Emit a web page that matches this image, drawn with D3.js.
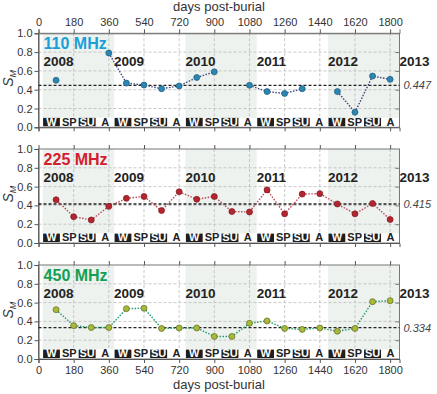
<!DOCTYPE html>
<html><head><meta charset="utf-8">
<script src="https://cdn.jsdelivr.net/npm/d3@7"></script>
<style>body{margin:0;background:#fff}svg{display:block;font-family:"Liberation Sans",Arial,sans-serif}</style>
</head><body><svg id="c" width="437" height="394"></svg>
<script>
const days = [90,180,270,360,450,540,630,720,810,900,990,1080,1170,1260,1350,1440,1530,1620,1710,1800];
const s110 = [0.50,null,null,0.79,0.47,0.45,0.41,0.44,0.53,0.59,null,0.447,0.38,0.36,0.41,null,0.38,0.16,0.545,0.51];
const s225 = [0.46,0.28,0.245,0.39,0.475,0.495,0.345,0.545,0.465,0.495,0.335,0.33,0.565,0.31,0.52,0.525,0.415,0.31,0.42,0.25];
const s450 = [0.525,0.355,0.335,0.335,0.535,0.54,0.325,0.33,0.33,0.24,0.24,0.38,0.405,0.325,0.315,0.33,0.295,0.325,0.61,0.62];
const means = [0.447,0.415,0.334];
const freqLabels = ["110 MHz","225 MHz","450 MHz"];
const years = ["2008","2009","2010","2011","2012","2013"];
const yearStart = [21,387,752,1117,1482,1848];
const seasons = ["W","SP","SU","A"];
const seasonOffsets = [0,91,182,274];
const xTicks = [0,180,360,540,720,900,1080,1260,1440,1620,1800];
const yTicks = [0,0.2,0.4,0.6,0.8,1.0];

const svg = d3.select("#c");
const x = d3.scaleLinear().domain([0,1848]).range([38.5,399.5]);
const panelTops = [33.3,149,265];
const panelH = 94;
const series = [s110,s225,s450];
const labelColors = ["#1aa0d8","#d4202e","#14a052"];
const ptFill = ["#2b86b2","#b3252f","#a9b83a"];
const ptStroke = ["#1d5c7c","#7e1820","#5d6b1c"];
const lineCol = ["#3c4680","#c04a55","#1f9a6c"];

panelTops.forEach((top,pi)=>{
  const y = d3.scaleLinear().domain([0,1]).range([top+panelH, top]);
  const g = svg.append("g");
  [0,2,4].forEach(yi=>{
    g.append("rect").attr("x",x(yearStart[yi])).attr("width",x(yearStart[yi+1])-x(yearStart[yi]))
      .attr("y",y(1)).attr("height",y(0.1)-y(1)).attr("fill","#edf2ef");
  });
  g.selectAll(".vg").data(xTicks).join("line")
    .attr("x1",d=>x(d)).attr("x2",d=>x(d)).attr("y1",y(1)).attr("y2",y(0.1))
    .attr("stroke","#bbb").attr("stroke-width",0.8).attr("stroke-dasharray","3,2");
  g.selectAll(".hg").data([0.2,0.4,0.6,0.8]).join("line")
    .attr("x1",x(0)).attr("x2",x(1848)).attr("y1",d=>y(d)).attr("y2",d=>y(d))
    .attr("stroke","#bbb").attr("stroke-width",0.8).attr("stroke-dasharray","3,2");
  const boxes = [];
  for(let yi=0; yi<5; yi++){
    for(let si=0; si<4; si++){
      const a = yearStart[yi]+seasonOffsets[si];
      const b = si<3 ? yearStart[yi]+seasonOffsets[si+1] : yearStart[yi+1];
      boxes.push({a,b,s:seasons[si],dark:si%2===0});
    }
  }
  const bg = g.selectAll(".box").data(boxes).join("g");
  bg.append("rect").attr("x",d=>x(d.a)+0.5).attr("width",d=>x(d.b)-x(d.a)-1)
    .attr("y",y(0.1)).attr("height",y(0)-y(0.1)-1)
    .attr("fill",d=>d.dark?"#1e1e1e":"#fff");
  bg.append("text").attr("x",d=>(x(d.a)+x(d.b))/2).attr("y",y(0)-1.6)
    .attr("text-anchor","middle").attr("font-size",11).attr("font-weight","bold")
    .attr("fill",d=>d.dark?"#fff":"#222").text(d=>d.s);
  g.append("rect").attr("x",x(0)).attr("y",y(1)).attr("width",x(1848)-x(0)).attr("height",panelH)
    .attr("fill","none").attr("stroke","#777").attr("stroke-width",1);
  const la = g.append("g").attr("transform",`translate(${x(0)},0)`)
    .call(d3.axisLeft(y).tickValues(yTicks).tickFormat(d3.format(".1f")).tickSize(4).tickPadding(2));
  la.select(".domain").attr("stroke","#555");
  la.selectAll("line").attr("stroke","#555");
  la.selectAll("text").attr("font-size",11).attr("fill","#333").attr("font-family","Liberation Sans, Arial");
  const ra = g.append("g").attr("transform",`translate(${x(1848)},0)`)
    .call(d3.axisLeft(y).tickValues([0.2,0.4,0.6,0.8]).tickFormat("").tickSize(4));
  ra.select(".domain").remove(); ra.selectAll("line").attr("stroke","#777");
  const ba = g.append("g").attr("transform",`translate(0,${y(0)})`)
    .call(d3.axisBottom(x).tickValues(xTicks).tickSize(4).tickFormat(pi===2?d3.format("d"):""));
  ba.select(".domain").attr("stroke","#555");
  ba.selectAll("line").attr("stroke","#555");
  ba.selectAll("text").attr("font-size",11).attr("fill","#333").attr("font-family","Liberation Sans, Arial");
  if(pi===0){
    const ta = g.append("g").attr("transform",`translate(0,${y(1)})`)
      .call(d3.axisTop(x).tickValues(xTicks).tickSize(4).tickFormat(d3.format("d")));
    ta.select(".domain").attr("stroke","#777");
    ta.selectAll("line").attr("stroke","#555");
    ta.selectAll("text").attr("font-size",11).attr("fill","#333").attr("font-family","Liberation Sans, Arial");
  } else {
    g.append("g").attr("transform",`translate(0,${y(1)})`)
      .call(d3.axisTop(x).tickValues(xTicks).tickSize(4).tickFormat(""))
      .call(a=>{a.select(".domain").remove(); a.selectAll("line").attr("stroke","#555");});
  }
  g.append("line").attr("x1",x(0)).attr("x2",x(1848)).attr("y1",y(means[pi])).attr("y2",y(means[pi]))
    .attr("stroke","#222").attr("stroke-width",1.3).attr("stroke-dasharray","3,2");
  g.append("text").attr("x",x(1848)+4).attr("y",y(means[pi])+4).attr("font-size",11)
    .attr("font-style","italic").attr("fill","#444").text(means[pi].toFixed(3));
  g.append("text").attr("x",x(yearStart[0])+1).attr("y",y(1)+16).attr("font-size",16)
    .attr("font-weight","bold").attr("fill",labelColors[pi]).text(freqLabels[pi]);
  g.selectAll(".yr").data(years).join("text")
    .attr("x",(d,i)=>x(yearStart[i])+(i===0?1:0)).attr("y",y(0.65))
    .attr("font-size",13.5).attr("font-weight","bold").attr("fill","#222").text(d=>d);
  const yl = g.append("text").attr("transform",`translate(13,${y(0.52)}) rotate(-90)`)
    .attr("text-anchor","middle").attr("font-size",14).attr("font-style","italic").attr("fill","#333");
  yl.append("tspan").text("S");
  yl.append("tspan").attr("font-size",9).attr("dy",3).text("M");
  const pts = days.map((d,i)=>({d,v:series[pi][i]}));
  const line = d3.line().defined(p=>p.v!==null).x(p=>x(p.d)).y(p=>y(p.v));
  g.append("path").attr("d",line(pts)).attr("fill","none").attr("stroke",lineCol[pi])
    .attr("stroke-width",1.4).attr("stroke-dasharray","1.5,1.5");
  g.selectAll(".pt").data(pts.filter(p=>p.v!==null)).join("circle")
    .attr("cx",p=>x(p.d)).attr("cy",p=>y(p.v)).attr("r",3)
    .attr("fill",ptFill[pi]).attr("stroke",ptStroke[pi]).attr("stroke-width",0.7);
});
svg.append("text").attr("x",219).attr("y",11).attr("text-anchor","middle").attr("font-size",13)
  .attr("fill","#333").text("days post-burial");
svg.append("text").attr("x",219).attr("y",389).attr("text-anchor","middle").attr("font-size",13)
  .attr("fill","#333").text("days post-burial");
</script></body></html>
